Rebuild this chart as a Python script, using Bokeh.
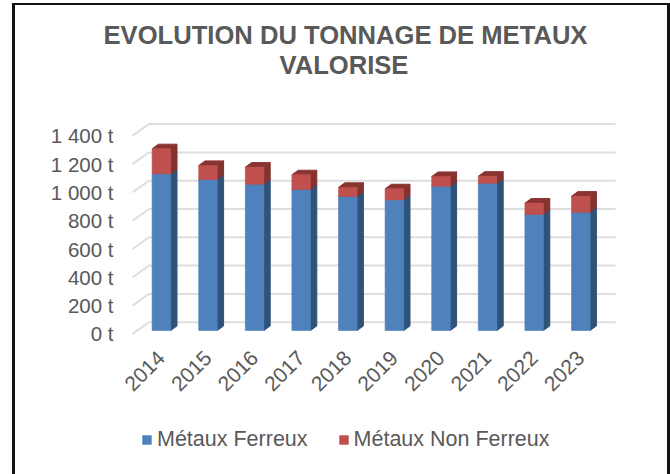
from bokeh.plotting import figure
from bokeh.models import Range1d, FixedTicker, Legend, LegendItem, Title, InlineStyleSheet
from bokeh.embed import file_html
from bokeh.resources import INLINE
import math

years = ["2014","2015","2016","2017","2018","2019","2020","2021","2022","2023"]
ferreux = [1107,1067,1034,996,947,923,1020,1041,820,836]
non_ferreux = [177,99,120,104,64,78,68,49,80,113]
y_ticks = [0,200,400,600,800,1000,1200,1400]
y_labels = {0:"0 t",200:"200 t",400:"400 t",600:"600 t",800:"800 t",1000:"1 000 t",1200:"1 200 t",1400:"1 400 t"}

FONT = "Liberation Sans"
TEXT = "#595959"
W, H = 670, 474
FL, FR, FT, FB = 120, 616, 118, 474   # frame in page pixels
AXIS_Y = 345         # page y of the category axis

PX_X = 46.6          # pixels per category
PX_Y = 28.3 / 200    # pixels per tonne
X0 = 160.9           # page x of first bar centre
Y0 = 333.4           # page y of value 0 at the front edge
front_off = 3.4 / PX_Y
bar_dx = 6.3 / PX_X
bar_dy = 4.6 / PX_Y
wall_dx = 16.5 / PX_X
wall_dy = 11.7 / PX_Y
half = 9.3 / PX_X

p = figure(width=W, height=H, output_backend="svg", toolbar_location=None,
           min_border_left=FL, min_border_right=W - FR, min_border_top=FT, min_border_bottom=0,
           x_range=Range1d((FL - X0) / PX_X, (FR - X0) / PX_X),
           y_range=Range1d((Y0 - FB) / PX_Y, (Y0 - FT) / PX_Y))
p.grid.visible = False
p.outline_line_color = None
p.border_fill_color = "white"
p.styles = {"position": "absolute", "left": "0", "top": "0"}
p.stylesheets = [InlineStyleSheet(css=":host::after{content:'';position:absolute;left:12px;top:3px;"
                                      "width:652px;height:480px;border:3px solid #111111;border-top-width:2px;"
                                      "pointer-events:none;} :host{overflow:hidden;}")]

# gridlines
x_front = [(132 - X0) / PX_X for _ in y_ticks]
x_back = [x + wall_dx for x in x_front]
x_end = [(615 - X0) / PX_X for _ in y_ticks]
y_back = [y + wall_dy for y in y_ticks]
p.segment(x_front, y_ticks, x_back, y_back, line_color="#dedede", line_width=2)
p.segment(x_back, y_back, x_end, y_back, line_color="#dedede", line_width=2)

def faces(bottoms, tops, front, side, top):
    fl, fr = [], []
    xs_side, ys_side, xs_top, ys_top = [], [], [], []
    for i, (b, t) in enumerate(zip(bottoms, tops)):
        fl.append(i - half); fr.append(i + half)
        xs_side.append([i + half, i + half + bar_dx, i + half + bar_dx, i + half])
        ys_side.append([b + front_off, b + front_off + bar_dy, t + front_off + bar_dy, t + front_off])
        xs_top.append([i - half, i - half + bar_dx, i + half + bar_dx, i + half])
        ys_top.append([t + front_off, t + front_off + bar_dy, t + front_off + bar_dy, t + front_off])
    p.patches(xs_side, ys_side, fill_color=side, line_color=side)
    p.patches(xs_top, ys_top, fill_color=top, line_color=top)
    return p.quad(left=fl, right=fr, bottom=[b + front_off for b in bottoms],
                  top=[t + front_off for t in tops], fill_color=front, line_color=front, line_alpha=0.6)

zero = [0] * len(years)
totals = [a + b for a, b in zip(ferreux, non_ferreux)]
r_blue = faces(zero, ferreux, "#4f81bd", "#2f5279", "#2f5279")
r_red = faces(ferreux, totals, "#c0504d", "#843230", "#8a3432")

# axes
p.yaxis.ticker = FixedTicker(ticks=y_ticks)
p.yaxis.major_label_overrides = y_labels
p.yaxis.axis_line_color = None
p.yaxis.major_tick_line_color = None
p.yaxis.minor_tick_line_color = None
p.yaxis.major_label_text_font = FONT
p.yaxis.major_label_text_font_size = "20.5px"
p.yaxis.major_label_text_color = TEXT
p.yaxis.major_label_standoff = 1

p.xaxis.fixed_location = (Y0 - AXIS_Y) / PX_Y
p.xaxis.ticker = FixedTicker(ticks=list(range(len(years))))
p.xaxis.major_label_overrides = {i: y for i, y in enumerate(years)}
p.xaxis.axis_line_color = None
p.xaxis.major_tick_line_color = None
p.xaxis.minor_tick_line_color = None
p.xaxis.major_label_text_font = FONT
p.xaxis.major_label_text_font_size = "21px"
p.xaxis.major_label_text_color = TEXT
p.xaxis.major_label_orientation = math.pi / 4
p.xaxis.major_label_standoff = 3

legend = Legend(items=[LegendItem(label="Métaux Ferreux", renderers=[r_blue]),
                       LegendItem(label="Métaux Non Ferreux", renderers=[r_red])],
                orientation="horizontal", location=(21, 22), border_line_color=None,
                background_fill_alpha=0, label_text_font=FONT, label_text_font_size="21.5px",
                label_text_color=TEXT, glyph_width=11, glyph_height=11, spacing=30,
                margin=0, padding=0, label_standoff=5)
p.add_layout(legend, "center")

p.add_layout(Title(text=" ", text_font_size="1px", standoff=37), "above")
p.add_layout(Title(text="VALORISE", align="left", offset=159, text_font=FONT, text_font_size="25.6px",
                   text_font_style="bold", text_color=TEXT, standoff=0), "above")
p.add_layout(Title(text="EVOLUTION DU TONNAGE DE METAUX", align="left", offset=-17, text_font=FONT,
                   text_font_size="25.6px", text_font_style="bold", text_color=TEXT, standoff=0), "above")

open("out.html", "w").write(file_html(p, INLINE))
